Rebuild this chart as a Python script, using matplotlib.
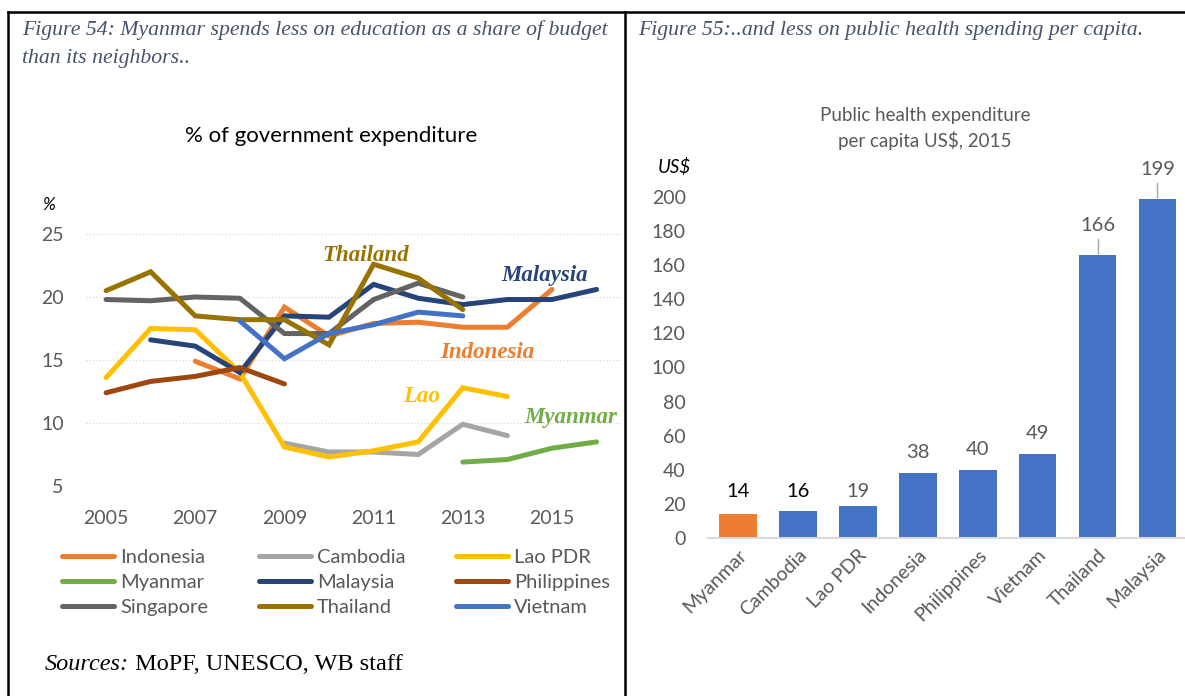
import matplotlib
matplotlib.use("Agg")
import matplotlib.pyplot as plt
from matplotlib.lines import Line2D

W, H = 1185, 696

# education spending, % of government expenditure
years = list(range(2005, 2017))
series_names = ["Indonesia", "Cambodia", "Lao PDR", "Myanmar", "Malaysia",
                "Philippines", "Singapore", "Thailand", "Vietnam"]
series_colors = ["#ED7D31", "#A5A5A5", "#FFC000", "#70AD47", "#264478",
                 "#9E480E", "#636363", "#997300", "#4472C4"]

indonesia = [None, None, 14.9, 13.5, 19.2, 16.9, 17.9, 18.0, 17.6, 17.6, 20.6, None]
cambodia = [None, None, None, None, 8.4, 7.7, 7.7, 7.5, 9.9, 9.0, None, None]
lao = [13.6, 17.5, 17.4, 14.0, 8.1, 7.3, 7.8, 8.5, 12.8, 12.1, None, None]
myanmar = [None, None, None, None, None, None, None, None, 6.9, 7.1, 8.0, 8.5]
malaysia = [None, 16.6, 16.1, 14.0, 18.5, 18.4, 21.0, 19.9, 19.4, 19.8, 19.8, 20.6]
philippines = [12.4, 13.3, 13.7, 14.4, 13.1, None, None, None, None, None, None, None]
singapore = [19.8, 19.7, 20.0, 19.9, 17.1, 17.1, 19.8, 21.1, 20.0, None, None, None]
thailand = [20.5, 22.0, 18.5, 18.2, 18.2, 16.2, 22.6, 21.5, 19.0, None, None, None]
vietnam = [None, None, None, 18.1, 15.1, 17.1, 17.8, 18.8, 18.5, None, None, None]
series_values = [indonesia, cambodia, lao, myanmar, malaysia,
                 philippines, singapore, thailand, vietnam]

# public health expenditure per capita, US$ 2015
countries = ["Myanmar", "Cambodia", "Lao PDR", "Indonesia", "Philippines",
             "Vietnam", "Thailand", "Malaysia"]
health_usd = [14, 16, 19, 38, 40, 49, 166, 199]

SANS = "Lato"
SERIF = "Liberation Serif"
CAPTION = "#44546A"
GREY = "#595959"


def px(x, y):
    return x / W, 1 - y / H


def main():
    fig = plt.figure(figsize=(W / 100, H / 100), dpi=100)

    # ---- left panel: line chart ----
    ax1 = fig.add_axes([86 / W, 1 - 486 / H, 536 / W, 252 / H])
    for name, vals, col in zip(series_names, series_values, series_colors):
        xs = [y for y, v in zip(years, vals) if v is not None]
        ys = [v for v in vals if v is not None]
        ax1.plot(xs, ys, color=col, lw=3.6, solid_capstyle="round",
                 solid_joinstyle="miter", label=name, clip_on=False)
    ax1.set_xlim(2004.55, 2016.57)
    ax1.set_ylim(5, 25)
    ax1.set_yticks([5, 10, 15, 20, 25])
    ax1.set_xticks(range(2005, 2016, 2))
    ax1.grid(axis="y", color="#D9D9D9", linestyle=":", lw=0.9)
    ax1.set_axisbelow(True)
    for s in ax1.spines.values():
        s.set_visible(False)
    ax1.tick_params(length=0, labelsize=14, labelcolor=GREY)
    ax1.tick_params(axis="y", pad=16)
    ax1.tick_params(axis="x", pad=17)
    for lab in ax1.get_xticklabels() + ax1.get_yticklabels():
        lab.set_fontfamily(SANS)

    # inline series names
    inline = [("Thailand", 2009.85, 23.3, "#997300"),
              ("Malaysia", 2013.86, 21.7, "#264478"),
              ("Indonesia", 2012.5, 15.6, "#ED7D31"),
              ("Lao", 2011.66, 12.1, "#FFC000"),
              ("Myanmar", 2014.38, 10.45, "#70AD47")]
    for txt, xx, yy, col in inline:
        ax1.text(xx, yy, txt, color=col, fontsize=16.5, fontfamily=SERIF,
                 fontstyle="italic", fontweight="bold", ha="left", va="center")

    fig.text(*px(331, 136), "% of government expenditure", fontsize=16,
             fontfamily=SANS, ha="center", va="center", color="black")
    fig.text(*px(42, 205), "%", fontsize=12.5, fontfamily=SANS,
             fontstyle="italic", ha="left", va="center")

    handles, labels = ax1.get_legend_handles_labels()
    order = [0, 3, 6, 1, 4, 7, 2, 5, 8]
    fig.legend([handles[i] for i in order], [labels[i] for i in order],
               loc="upper left", bbox_to_anchor=px(62, 549), ncol=3,
               frameon=False, handlelength=2.6, handletextpad=0.3,
               columnspacing=2.5, labelspacing=0.38, borderpad=0,
               borderaxespad=0,
               prop={"family": SANS, "size": 14.5}, labelcolor=GREY)

    # ---- right panel: bar chart ----
    ax2 = fig.add_axes([708 / W, 1 - 538 / H, 477 / W, 220 * 1.706 / H])
    pos = list(range(len(countries)))
    colors = ["#ED7D31" if c == "Myanmar" else "#4472C4" for c in countries]
    ax2.bar(pos, health_usd, width=0.63, color=colors)
    ax2.set_xlim(-0.5, 7.46)
    ax2.set_ylim(0, 220)
    ax2.set_yticks(range(0, 201, 20))
    ax2.set_xticks(pos)
    ax2.set_xticklabels(countries, rotation=45, ha="right",
                        rotation_mode="anchor", fontfamily=SANS)
    for s in ["top", "right", "left"]:
        ax2.spines[s].set_visible(False)
    ax2.spines["bottom"].set_color("#D9D9D9")
    ax2.spines["bottom"].set_linewidth(1.5)
    ax2.tick_params(length=0, labelsize=14, labelcolor=GREY)
    ax2.tick_params(axis="y", pad=16)
    ax2.tick_params(axis="x", pad=6)
    for lab in ax2.get_yticklabels():
        lab.set_fontfamily(SANS)

    for i, v in enumerate(health_usd):
        if v > 100:
            ax2.plot([i, i], [v + 1, v + 9], color="#A6A6A6", lw=1)
            ly = v + 17
        elif v > 20:
            ly = v + 12
        else:
            ly = 27.5
        col = "black" if v < 18 else GREY
        ax2.text(i, ly, str(v), ha="center", va="center", fontsize=14.5,
                 fontfamily=SANS, color=col)

    fig.text(*px(925, 115), "Public health expenditure", fontsize=13.5,
             fontfamily=SANS, ha="center", va="center", color=GREY)
    fig.text(*px(925, 141), "per capita US$, 2015", fontsize=13.5,
             fontfamily=SANS, ha="center", va="center", color=GREY)
    fig.text(*px(658, 167), "US$", fontsize=13.5, fontfamily=SANS,
             fontstyle="italic", ha="left", va="center")

    # ---- captions and frame ----
    fig.text(*px(22, 30), "Figure 54: Myanmar spends less on education as a share of budget",
             fontsize=15.7, fontfamily=SERIF, fontstyle="italic",
             color=CAPTION, ha="left", va="center")
    fig.text(*px(22, 59), "than its neighbors..", fontsize=15.7,
             fontfamily=SERIF, fontstyle="italic", color=CAPTION,
             ha="left", va="center")
    fig.text(*px(638, 30), "Figure 55:..and less on public health spending per capita.",
             fontsize=15.7, fontfamily=SERIF, fontstyle="italic",
             color=CAPTION, ha="left", va="center")

    src = fig.text(*px(45, 665), "Sources:", fontsize=17.5, fontfamily=SERIF,
                   fontstyle="italic", ha="left", va="center")
    ax1.annotate(" MoPF, UNESCO, WB staff", xy=(1, 0.5), xycoords=src,
                 ha="left", va="center", fontsize=17.5, fontfamily=SERIF,
                 annotation_clip=False)

    for xs, ys, lw in [((8, W), (12, 12), 1.8), ((8, 8), (12, H), 1.8),
                       ((624.5, 624.5), (12, H), 1.8)]:
        fig.add_artist(Line2D([x / W for x in xs], [1 - y / H for y in ys],
                              color="black", lw=lw))

    fig.savefig("out.png", dpi=100)


if __name__ == "__main__":
    main()
